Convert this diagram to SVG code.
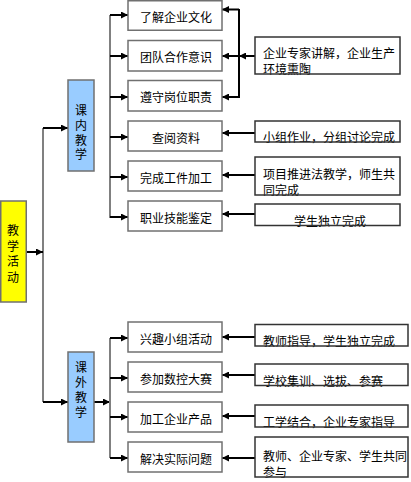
<svg xmlns="http://www.w3.org/2000/svg" width="411" height="482" viewBox="0 0 411 482">
<style>
text{font-family:"Noto Sans CJK SC","Liberation Sans",sans-serif;fill:#000;}
.mid rect{fill:#fff;stroke:#707070;stroke-width:1.5;}
.mid text{font-size:12px;text-anchor:middle;}
.note .bg{fill:#fff;stroke:none;}
.note .bd{fill:none;stroke:#333;stroke-width:1.5;}
.note text{font-size:12px;}
.vt{font-size:12px;writing-mode:vertical-rl;text-orientation:upright;}
.gray{stroke:#808080;stroke-width:2;fill:none;}
.blk{stroke:#000;stroke-width:2;fill:none;}
.arr{stroke:#000;stroke-width:2;fill:none;marker-end:url(#ah);}
</style>
<defs>
<marker id="ah" viewBox="0 0 8 8" refX="8" refY="4" markerWidth="7" markerHeight="7" markerUnits="userSpaceOnUse" orient="auto">
<path d="M0,0 L8,4 L0,8 Z" fill="#000"/>
</marker>
</defs>
<rect width="411" height="482" fill="#fff"/>

<g id="connectors">
<line class="gray" x1="43" y1="128" x2="43" y2="402"/>
<line class="arr" x1="26" y1="252" x2="43" y2="252"/>
<line class="arr" x1="43" y1="128" x2="68" y2="128"/>
<line class="arr" x1="43" y1="402" x2="68" y2="402"/>
<line class="gray" x1="110" y1="15" x2="110" y2="218"/>
<line class="arr" x1="110" y1="15" x2="128" y2="15"/>
<line class="arr" x1="110" y1="56" x2="128" y2="56"/>
<line class="arr" x1="110" y1="97" x2="128" y2="97"/>
<line class="arr" x1="110" y1="137" x2="128" y2="137"/>
<line class="arr" x1="110" y1="177" x2="128" y2="177"/>
<line class="arr" x1="110" y1="217" x2="128" y2="217"/>
<line class="arr" x1="94" y1="402" x2="110" y2="402"/>
<line class="gray" x1="110" y1="338" x2="110" y2="458"/>
<line class="arr" x1="110" y1="338" x2="128" y2="338"/>
<line class="arr" x1="110" y1="378" x2="128" y2="378"/>
<line class="arr" x1="110" y1="417" x2="128" y2="417"/>
<line class="arr" x1="110" y1="458" x2="128" y2="458"/>
<line class="blk" x1="239" y1="9" x2="239" y2="98"/>
<line class="arr" x1="255" y1="56" x2="239" y2="56"/>
<line class="arr" x1="239" y1="9.5" x2="222" y2="9.5"/>
<line class="arr" x1="239" y1="56" x2="222" y2="56"/>
<line class="arr" x1="239" y1="97" x2="222" y2="97"/>
<line class="arr" x1="255" y1="133" x2="222" y2="133"/>
<line class="arr" x1="255" y1="175" x2="222" y2="175"/>
<line class="arr" x1="255" y1="214" x2="222" y2="214"/>
<line class="arr" x1="255" y1="337" x2="222" y2="337"/>
<line class="arr" x1="255" y1="375" x2="222" y2="375"/>
<line class="arr" x1="255" y1="416" x2="222" y2="416"/>
<line class="arr" x1="255" y1="458" x2="222" y2="458"/>
</g>

<g id="n-root">
<rect x="0.75" y="201" width="25.5" height="101" fill="#ffff00" stroke="#707070" stroke-width="1.5"/>
<text class="vt" x="13" y="224.5" letter-spacing="3.5">教学活动</text>
</g>
<g id="n-kenei">
<rect x="68" y="80" width="26" height="91" fill="#99ccff" stroke="#707070" stroke-width="1.5"/>
<text class="vt" x="81" y="104.5" letter-spacing="2.8">课内教学</text>
</g>
<g id="n-kewai">
<rect x="68" y="352" width="26" height="90" fill="#99ccff" stroke="#707070" stroke-width="1.5"/>
<text class="vt" x="81" y="361.5" letter-spacing="3">课外教学</text>
</g>

<g id="m1" class="mid"><rect x="128" y="0.75" width="94" height="29.5"/><text x="176" y="22">了解企业文化</text></g>
<g id="m2" class="mid"><rect x="128" y="40.5" width="94" height="30.5"/><text x="176" y="62">团队合作意识</text></g>
<g id="m3" class="mid"><rect x="128" y="80.5" width="94" height="30.5"/><text x="176" y="102">遵守岗位职责</text></g>
<g id="m4" class="mid"><rect x="128" y="121" width="94" height="30"/><text x="176" y="143">查阅资料</text></g>
<g id="m5" class="mid"><rect x="128" y="161" width="94" height="30"/><text x="176" y="183">完成工件加工</text></g>
<g id="m6" class="mid"><rect x="128" y="201" width="94" height="30"/><text x="176" y="223">职业技能鉴定</text></g>
<g id="m7" class="mid"><rect x="128" y="322" width="94" height="30"/><text x="176" y="344">兴趣小组活动</text></g>
<g id="m8" class="mid"><rect x="128" y="362" width="94" height="30"/><text x="176" y="384">参加数控大赛</text></g>
<g id="m9" class="mid"><rect x="128" y="402" width="94" height="30"/><text x="176" y="424">加工企业产品</text></g>
<g id="m10" class="mid"><rect x="128" y="442" width="94" height="30"/><text x="176" y="464">解决实际问题</text></g>

<g id="r1" class="note"><rect class="bg" x="255" y="37" width="145" height="37"/><text x="263" y="57.5">企业专家讲解，企业生产</text><text x="263" y="73.5">环境熏陶</text><rect class="bd" x="255" y="37" width="145" height="37"/></g>
<g id="r2" class="note"><rect class="bg" x="255" y="121" width="145" height="21"/><text x="263" y="141.5">小组作业，分组讨论完成</text><rect class="bd" x="255" y="121" width="145" height="21"/></g>
<g id="r3" class="note"><rect class="bg" x="255" y="157" width="145" height="38"/><text x="263" y="179">项目推进法教学，师生共</text><text x="263" y="195">同完成</text><rect class="bd" x="255" y="157" width="145" height="38"/></g>
<g id="r4" class="note"><rect class="bg" x="255" y="204" width="145" height="21.5"/><text x="330" y="225.5" text-anchor="middle">学生独立完成</text><rect class="bd" x="255" y="204" width="145" height="21.5"/></g>
<g id="r5" class="note"><rect class="bg" x="255" y="324.5" width="153" height="21.5"/><text x="263" y="345.5">教师指导，学生独立完成</text><rect class="bd" x="255" y="324.5" width="153" height="21.5"/></g>
<g id="r6" class="note"><rect class="bg" x="255" y="364" width="153" height="21.5"/><text x="263" y="385.5">学校集训、选拔、参赛</text><rect class="bd" x="255" y="364" width="153" height="21.5"/></g>
<g id="r7" class="note"><rect class="bg" x="255" y="405" width="153" height="22"/><text x="263" y="427">工学结合，企业专家指导</text><rect class="bd" x="255" y="405" width="153" height="22"/></g>
<g id="r8" class="note"><rect class="bg" x="255" y="437" width="153" height="40"/><text x="263" y="461">教师、企业专家、学生共同</text><text x="263" y="477">参与</text><rect class="bd" x="255" y="437" width="153" height="40"/></g>
</svg>
